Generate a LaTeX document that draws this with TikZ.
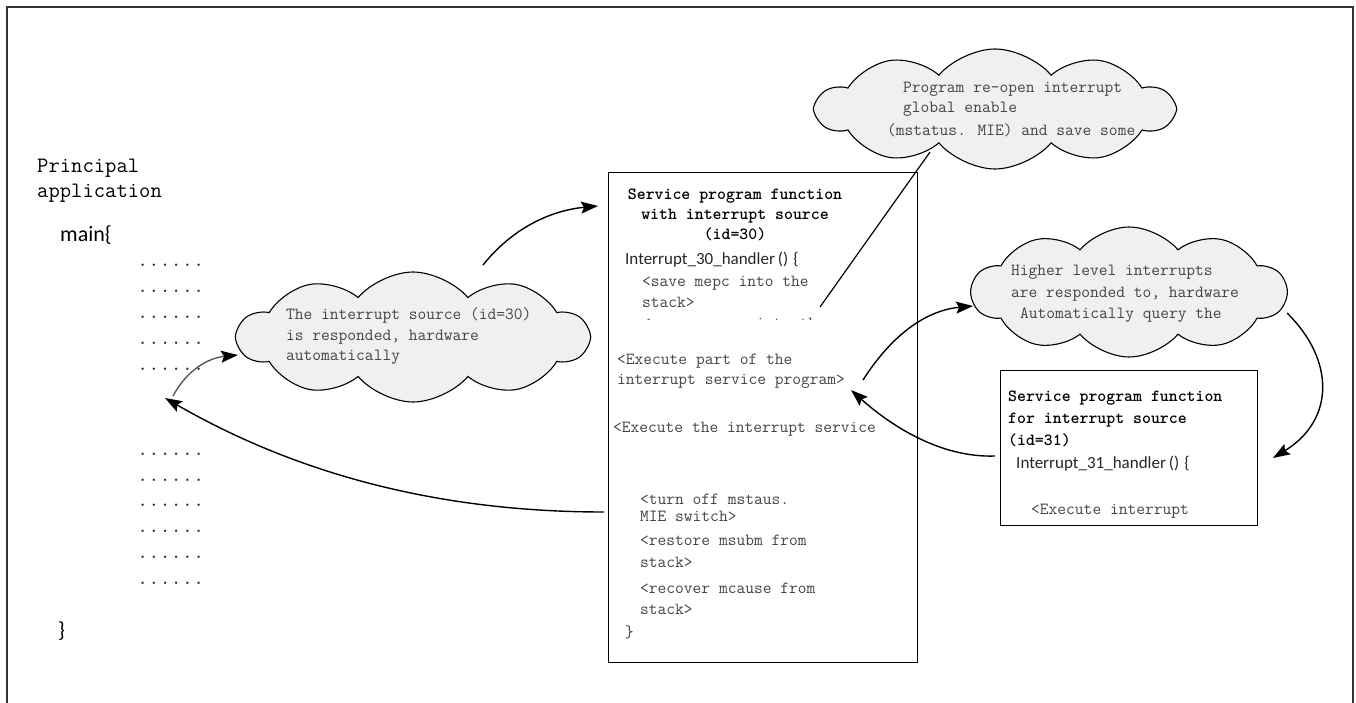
\documentclass[tikz,border=0pt]{standalone}
\usepackage{fontspec}
\usetikzlibrary{shapes.symbols,arrows.meta}
\newfontfamily\calibrifont{Carlito}
\definecolor{txtgray}{HTML}{444444}
\definecolor{cloudfill}{HTML}{F0F0F0}
\definecolor{framegray}{HTML}{333333}
\tikzset{
  body/.style={font=\ttfamily\fontsize{17}{20}\selectfont, text=txtgray, anchor=base west, inner sep=0},
  ttl/.style={font=\ttfamily\bfseries\fontsize{17}{20}\selectfont, text=black, inner sep=0},
  code/.style={font=\calibrifont\fontsize{17}{20}\selectfont, text=black!85, anchor=base west, inner sep=0},
  bigcode/.style={font=\calibrifont\fontsize{22}{26}\selectfont, text=black, anchor=base west, inner sep=0},
  heading/.style={font=\ttfamily\fontsize{22}{26}\selectfont, text=black, anchor=base west, inner sep=0},
  dotrow/.style={font=\ttfamily\fontsize{21.7}{24}\selectfont, text=black!80, anchor=base west, inner sep=0},
  isrbox/.style={draw=black, line width=1.1pt, fill=white},
  bubble/.style={cloud, cloud puffs=10, cloud puff arc=100, cloud ignores aspect,
    draw=black, line width=1.1pt, fill=cloudfill, inner sep=0},
  flow/.style={line width=1.4pt, -{Stealth[length=17pt,width=12pt,inset=3pt]}},
}
\begin{document}
\begin{tikzpicture}[x=1pt,y=-1pt]
\useasboundingbox (0,0) rectangle (1356,703);

% outer frame (open at the bottom)
\draw[framegray, line width=2pt] (7,703) -- (7,7) -- (1353,7) -- (1353,703);

% ---------- main program column ----------
\node[heading] (hd1) at (37,173) {Principal};
\node[heading] (hd2) at (37,198) {application};
\node[bigcode] (mainopen) at (60,241) {main\{};
\foreach \yy [count=\i] in {266,292,318,344,370,455,481,506,532,558,584}
  \node[dotrow] (dots\i) at (137,\yy) {......};
\node[bigcode] (mainclose) at (58,637) {\}};

% ---------- service routine for id=30 ----------
\node[isrbox, minimum width=309, minimum height=490, anchor=north west] (isr30) at (608,172) {};
\node[ttl, anchor=base] (t30a) at (735,200) {Service program function};
\node[ttl, anchor=base] (t30b) at (735,220) {with interrupt source};
\node[ttl, anchor=base] (t30c) at (735,240) {(id=30)};
\node[code] (h30) at (625,264) {Interrupt\_30\_handler\hspace{3pt}()\hspace{5pt}\{};
\node[body] (s1) at (642,286) {<save mepc into the};
\node[body] (s2) at (642,307) {stack>};
\begin{scope}
  % only the top edge of the next line shows above the cut
  \clip (612,312) rectangle (912,319.8);
  \node[body] (s3) at (642,328) {<save mcause into the};
\end{scope}
\node[body] (e1) at (617,364) {<Execute part of the};
\node[body] (e2) at (617,384) {interrupt service program>};
\node[body] (e3) at (613,432) {<Execute the interrupt service};
\node[body] (r1) at (640,504) {<turn off mstaus.};
\node[body] (r2) at (640,521) {MIE switch>};
\node[body] (r3) at (640,545) {<restore msubm from};
\node[body] (r4) at (640,567) {stack>};
\node[body] (r5) at (640,593) {<recover mcause from};
\node[body] (r6) at (640,614) {stack>};
\node[body] (r7) at (625,637) {\}};

% ---------- callout cloud above the routine ----------
\coordinate (calloutfoot) at (820,307);
\coordinate (callouttop) at (930,152);
\draw[line width=1.2pt] (callouttop) -- (calloutfoot);
\node[bubble, minimum width=356, minimum height=120] (cloudtop) at (995,109) {};
\node[body] (c1) at (903,93) {Program re-open interrupt};
\node[body] (c2) at (903,113) {global enable};
\node[body] (c3) at (887,136) {(mstatus. MIE) and save some};

% ---------- cloud: hardware response to id=30 ----------
\node[bubble, minimum width=350, minimum height=130] (cloudleft) at (413,337) {};
\node[body] (l1) at (286,319) {The interrupt source (id=30)};
\node[body] (l2) at (286,340) {is responded, hardware};
\node[body] (l3) at (286,360) {automatically};

% ---------- cloud: higher level interrupt ----------
\node[bubble, minimum width=314, minimum height=130] (cloudright) at (1129,292) {};
\node[body] (g1) at (1011,275) {Higher level interrupts};
\node[body] (g2) at (1011,297) {are responded to, hardware};
\node[body] (g3) at (1020,318) {Automatically query the};

% ---------- service routine for id=31 ----------
\node[isrbox, minimum width=257, minimum height=155, anchor=north west] (isr31) at (1000,370) {};
\node[ttl, anchor=base west] (t31a) at (1008,401) {Service program function};
\node[ttl, anchor=base west] (t31b) at (1008,423) {for interrupt source};
\node[ttl, anchor=base west] (t31c) at (1008,445) {(id=31)};
\node[code] (h31) at (1016,468) {Interrupt\_31\_handler\hspace{3pt}()\hspace{5pt}\{};
\node[body] (x31) at (1031,514) {<Execute interrupt};

% ---------- control-flow arrows ----------
\coordinate (a1s) at (483,265);  \coordinate (a1e) at (598,206);
\coordinate (a2s) at (173,396);  \coordinate (a2e) at (238,355);
\coordinate (a3s) at (604,512);  \coordinate (a3e) at (165,398);
\coordinate (a4s) at (863,380);  \coordinate (a4e) at (973,306);
\coordinate (a5s) at (1287,313); \coordinate (a5e) at (1273,458);
\coordinate (a6s) at (995,456);  \coordinate (a6e) at (851,390);

\draw[flow] (a1s) .. controls (515,225) and (555,210) .. (a1e);
\draw[flow, draw=black!65, -{Stealth[length=17pt,width=12pt,inset=3pt,color=black]}]
  (a2s) .. controls (187,370) and (208,358) .. (a2e);
\draw[flow] (a3s) .. controls (430,512) and (290,470) .. (a3e);
\draw[flow] (a4s) .. controls (895,330) and (930,310) .. (a4e);
\draw[flow] (a5s) .. controls (1335,360) and (1335,420) .. (a5e);
\draw[flow] (a6s) .. controls (940,458) and (890,425) .. (a6e);
\end{tikzpicture}
\end{document}
